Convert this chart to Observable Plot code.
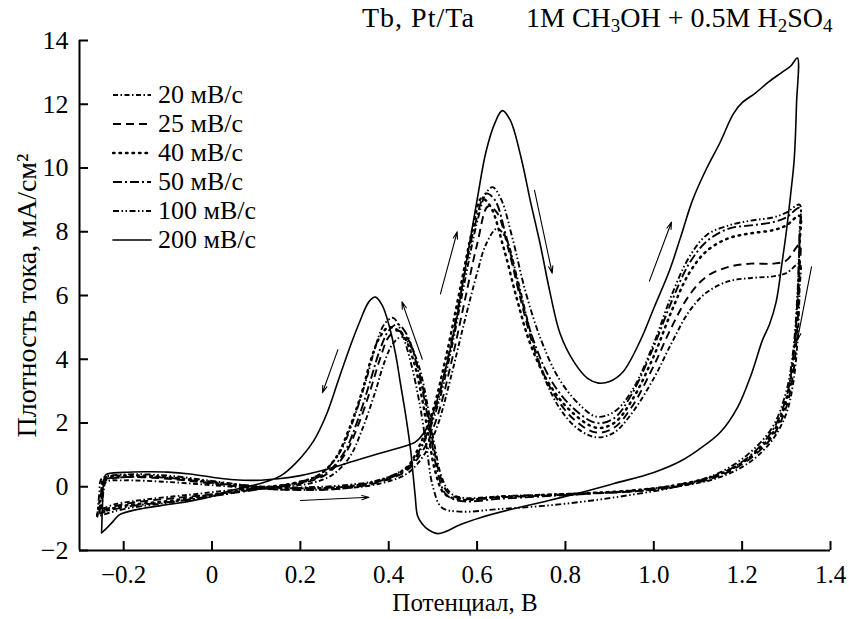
<!DOCTYPE html>
<html><head><meta charset="utf-8">
<script src="https://cdn.jsdelivr.net/npm/d3@7"></script>
<script src="https://cdn.jsdelivr.net/npm/@observablehq/plot@0.6"></script>
<style>
body{margin:0;background:#fff;}
#wrap{position:relative;width:849px;height:619px;font-family:"Liberation Serif","Times New Roman",serif;color:#000;}
.title{position:absolute;top:3px;font-size:28px;white-space:nowrap;line-height:30px;z-index:2;}
.title sub{font-size:19px;vertical-align:-5px;line-height:0;}
#legend{position:absolute;left:112px;top:80px;font-size:26px;z-index:2;}
.row{display:flex;align-items:center;height:29px;}
.row svg{margin-right:6px;}
</style></head><body><div id="wrap"><div id="t1" class="title" style="left:362px;letter-spacing:1px"></div><div id="t2" class="title" style="left:526px"></div><div id="legend"></div></div>
<script>
const xTicks = [-0.2, 0, 0.2, 0.4, 0.6, 0.8, 1.0, 1.2, 1.4];
const xTickLabels = ["−0.2", "0", "0.2", "0.4", "0.6", "0.8", "1.0", "1.2", "1.4"];
const yTicks = [-2, 0, 2, 4, 6, 8, 10, 12, 14];
const yTickLabels = ["−2", "0", "2", "4", "6", "8", "10", "12", "14"];
const xLabel = "Потенциал, В";
const yLabel = "Плотность тока, мА/см²";
const titleLeft = "Tb, Pt/Ta";
const titleRight = '1M CH<sub>3</sub>OH + 0.5M H<sub>2</sub>SO<sub>4</sub>';
const seriesNames = ["20 мВ/с", "25 мВ/с", "40 мВ/с", "50 мВ/с", "100 мВ/с", "200 мВ/с"];

const s20 = [[-0.25,-0.7],[-0.245,-0.1],[-0.24,0.15],[-0.2,0.2],[-0.1,0.15],[0,0.05],[0.1,-0.05],[0.2,-0.1],[0.3,-0.05],[0.38,0.1],[0.44,0.4],[0.48,1.0],[0.51,1.9],[0.54,3.4],[0.57,5.1],[0.6,6.7],[0.62,7.6],[0.645,8.1],[0.665,7.8],[0.69,6.6],[0.72,4.9],[0.75,3.5],[0.79,2.4],[0.83,1.8],[0.87,1.55],[0.91,1.7],[0.95,2.3],[1.0,3.4],[1.04,4.5],[1.08,5.5],[1.12,6.1],[1.17,6.45],[1.22,6.55],[1.27,6.6],[1.3,6.7],[1.33,7.0],
 [1.33,6.2],[1.325,4.5],[1.315,3.2],[1.3,2.3],[1.27,1.5],[1.22,0.8],[1.15,0.3],[1.05,0.0],[0.95,-0.15],[0.85,-0.2],[0.75,-0.25],[0.65,-0.3],[0.57,-0.35],[0.54,-0.2],[0.52,0.3],[0.505,1.2],[0.49,2.4],[0.47,3.7],[0.45,4.4],[0.43,4.7],[0.41,4.5],[0.39,3.9],[0.37,3.0],[0.34,1.8],[0.31,0.9],[0.27,0.35],[0.22,0.1],[0.15,0.0],[0.05,-0.1],[-0.05,-0.25],[-0.15,-0.4],[-0.22,-0.55],[-0.25,-0.7]];
const s25 = [[-0.255,-0.8],[-0.245,0.0],[-0.24,0.2],[-0.2,0.3],[-0.1,0.25],[0,0.1],[0.1,-0.05],[0.2,-0.1],[0.3,-0.05],[0.38,0.15],[0.44,0.5],[0.48,1.2],[0.51,2.2],[0.54,3.8],[0.57,5.7],[0.6,7.6],[0.625,8.8],[0.645,8.6],[0.67,7.5],[0.7,5.8],[0.73,4.3],[0.77,3.0],[0.82,2.1],[0.87,1.7],[0.91,1.85],[0.95,2.5],[1.0,3.8],[1.04,5.0],[1.08,6.0],[1.12,6.6],[1.17,6.9],[1.22,7.0],[1.27,7.0],[1.3,7.1],[1.33,7.6],
 [1.33,6.8],[1.325,5.0],[1.315,3.5],[1.3,2.5],[1.27,1.6],[1.22,0.9],[1.15,0.35],[1.05,0.0],[0.95,-0.15],[0.85,-0.22],[0.75,-0.28],[0.65,-0.33],[0.57,-0.38],[0.535,-0.2],[0.515,0.4],[0.5,1.4],[0.485,2.6],[0.465,3.8],[0.445,4.6],[0.42,4.9],[0.4,4.7],[0.38,4.0],[0.36,3.1],[0.33,1.9],[0.3,1.0],[0.26,0.4],[0.2,0.1],[0.12,-0.05],[0.03,-0.2],[-0.08,-0.35],[-0.18,-0.5],[-0.23,-0.65],[-0.255,-0.8]];
const s40 = [[-0.26,-0.9],[-0.25,-0.1],[-0.245,0.25],[-0.2,0.35],[-0.1,0.3],[0,0.15],[0.1,0.0],[0.2,-0.05],[0.3,0.0],[0.38,0.2],[0.44,0.6],[0.47,1.3],[0.5,2.4],[0.53,4.1],[0.56,6.1],[0.59,8.1],[0.61,9.05],[0.63,8.8],[0.66,7.5],[0.69,5.9],[0.72,4.5],[0.76,3.3],[0.81,2.4],[0.87,1.85],[0.91,2.0],[0.95,2.7],[1.0,4.1],[1.04,5.5],[1.08,6.7],[1.12,7.4],[1.17,7.8],[1.22,7.95],[1.27,8.05],[1.3,8.2],[1.33,8.5],
 [1.33,7.6],[1.325,5.6],[1.315,3.9],[1.3,2.7],[1.27,1.7],[1.22,0.95],[1.15,0.4],[1.05,0.05],[0.95,-0.12],[0.85,-0.2],[0.75,-0.26],[0.65,-0.32],[0.56,-0.4],[0.525,-0.2],[0.505,0.5],[0.49,1.6],[0.475,2.8],[0.455,4.0],[0.43,4.8],[0.4,5.0],[0.38,4.7],[0.36,4.0],[0.34,3.0],[0.31,1.8],[0.28,0.9],[0.24,0.35],[0.18,0.1],[0.1,-0.05],[0.0,-0.25],[-0.1,-0.45],[-0.2,-0.6],[-0.24,-0.75],[-0.26,-0.9]];
const s50 = [[-0.255,-0.85],[-0.25,-0.1],[-0.245,0.2],[-0.2,0.3],[-0.1,0.28],[0,0.12],[0.1,0.0],[0.2,-0.05],[0.3,0.0],[0.38,0.18],[0.44,0.55],[0.475,1.3],[0.505,2.4],[0.535,4.1],[0.565,6.2],[0.595,8.2],[0.62,9.2],[0.64,9.0],[0.665,7.9],[0.695,6.2],[0.725,4.7],[0.765,3.4],[0.815,2.5],[0.87,2.0],[0.91,2.15],[0.95,2.9],[1.0,4.4],[1.04,5.8],[1.08,7.0],[1.12,7.7],[1.17,8.1],[1.22,8.2],[1.27,8.3],[1.3,8.45],[1.33,8.75],
 [1.33,7.8],[1.325,5.8],[1.315,4.0],[1.3,2.8],[1.27,1.8],[1.22,1.0],[1.15,0.4],[1.05,0.05],[0.95,-0.12],[0.85,-0.22],[0.75,-0.3],[0.65,-0.38],[0.565,-0.45],[0.53,-0.25],[0.51,0.5],[0.495,1.6],[0.48,2.8],[0.46,4.0],[0.44,4.8],[0.42,5.1],[0.4,4.9],[0.38,4.3],[0.36,3.4],[0.33,2.1],[0.3,1.1],[0.26,0.45],[0.2,0.12],[0.12,-0.05],[0.02,-0.25],[-0.08,-0.45],[-0.18,-0.6],[-0.235,-0.75],[-0.255,-0.85]];
const s100 = [[-0.26,-0.95],[-0.255,-0.2],[-0.25,0.25],[-0.2,0.38],[-0.1,0.35],[0,0.18],[0.1,0.02],[0.2,-0.02],[0.3,0.05],[0.38,0.22],[0.45,0.7],[0.48,1.4],[0.51,2.5],[0.54,4.2],[0.57,6.3],[0.6,8.3],[0.62,9.2],[0.635,9.4],[0.655,9.0],[0.68,7.8],[0.71,6.1],[0.745,4.6],[0.785,3.4],[0.83,2.6],[0.87,2.2],[0.91,2.35],[0.95,3.0],[1.0,4.5],[1.04,6.0],[1.08,7.2],[1.12,7.9],[1.17,8.2],[1.22,8.35],[1.27,8.45],[1.3,8.6],[1.33,8.85],
 [1.33,8.0],[1.325,6.0],[1.315,4.2],[1.3,3.0],[1.27,1.9],[1.22,1.1],[1.15,0.45],[1.05,0.0],[0.95,-0.25],[0.85,-0.45],[0.75,-0.6],[0.65,-0.7],[0.56,-0.78],[0.52,-0.65],[0.5,0.0],[0.485,1.3],[0.47,2.6],[0.45,3.9],[0.43,4.8],[0.41,5.3],[0.39,5.1],[0.37,4.4],[0.35,3.4],[0.32,2.1],[0.29,1.1],[0.25,0.45],[0.19,0.12],[0.1,-0.05],[0.0,-0.3],[-0.1,-0.5],[-0.2,-0.7],[-0.24,-0.85],[-0.26,-0.95]];
const s200 = [[-0.25,-1.45],[-0.248,-0.6],[-0.245,0.2],[-0.24,0.38],[-0.2,0.45],[-0.15,0.47],[-0.1,0.46],[-0.05,0.4],[0,0.3],[0.05,0.22],[0.1,0.2],[0.15,0.25],[0.2,0.35],[0.26,0.55],[0.32,0.8],[0.38,1.05],[0.43,1.25],[0.46,1.4],[0.48,1.7],[0.5,2.3],[0.525,3.5],[0.55,5.0],[0.575,7.0],[0.6,9.0],[0.62,10.5],[0.64,11.4],[0.657,11.8],[0.675,11.5],[0.7,10.3],[0.72,9.0],[0.743,7.6],[0.765,6.1],[0.788,4.8],[0.82,3.9],[0.85,3.4],[0.875,3.25],[0.9,3.3],[0.93,3.6],[0.97,4.6],[1.0,5.6],[1.036,6.8],[1.06,7.8],[1.088,9.0],[1.12,10.0],[1.15,10.8],[1.18,11.7],[1.2,12.05],[1.23,12.35],[1.26,12.7],[1.29,13.0],[1.31,13.2],[1.325,13.45],
 [1.323,12.0],[1.318,10.3],[1.31,9.2],[1.3,8.0],[1.29,7.0],[1.277,5.8],[1.262,5.1],[1.246,4.6],[1.22,3.5],[1.19,2.5],[1.15,1.7],[1.1,1.15],[1.06,0.8],[1.0,0.45],[0.91,0.1],[0.83,-0.2],[0.76,-0.44],[0.68,-0.7],[0.607,-0.97],[0.56,-1.2],[0.53,-1.4],[0.51,-1.47],[0.49,-1.35],[0.475,-1.15],[0.465,-0.9],[0.46,-0.3],[0.455,0.4],[0.45,1.1],[0.44,2.1],[0.427,3.2],[0.415,4.2],[0.4,5.1],[0.385,5.7],[0.37,5.95],[0.355,5.8],[0.335,5.2],[0.31,4.3],[0.285,3.3],[0.26,2.3],[0.23,1.44],[0.19,0.75],[0.156,0.35],[0.12,0.15],[0.08,0.0],[0.04,-0.13],[-0.01,-0.34],[-0.05,-0.45],[-0.086,-0.53],[-0.12,-0.6],[-0.16,-0.69],[-0.19,-0.78],[-0.21,-0.88],[-0.223,-1.07],[-0.235,-1.25],[-0.25,-1.45]];

const arrows = [
  {x1: 0.2, y1: -0.43, x2: 0.355, y2: -0.33},
  {x1: 0.285, y1: 4.3, x2: 0.25, y2: 2.95},
  {x1: 0.476, y1: 4.0, x2: 0.43, y2: 5.8},
  {x1: 0.517, y1: 6.05, x2: 0.555, y2: 8.0},
  {x1: 0.73, y1: 9.3, x2: 0.77, y2: 6.7},
  {x1: 0.99, y1: 6.45, x2: 1.04, y2: 8.3},
  {x1: 1.357, y1: 6.9, x2: 1.325, y2: 4.6}
];

const styles = [
  {dash: "5,2.5,1.5,2.5", w: 1.9, cap: "butt"},
  {dash: "8,5", w: 1.9, cap: "butt"},
  {dash: "1.5,5", w: 2.5, cap: "round"},
  {dash: "9,3,2,3", w: 1.9, cap: "butt"},
  {dash: "6,2.5,1.5,2.5,1.5,2.5", w: 1.9, cap: "butt"},
  {dash: null, w: 1.6, cap: "round"}
];
const allSeries = [s20, s25, s40, s50, s100, s200];

const font = '"Liberation Serif", "Times New Roman", serif';
const chart = Plot.plot({
  width: 849, height: 619,
  marginTop: 40, marginBottom: 69, marginLeft: 79, marginRight: 19,
  style: {fontFamily: font, fontSize: "26px", background: "white", color: "black"},
  x: {domain: [-0.3, 1.4]},
  y: {domain: [-2, 14]},
  marks: [
    ...allSeries.map((s, i) => Plot.line(s, {x: d => d[0], y: d => d[1], stroke: "black", strokeWidth: styles[i].w, strokeDasharray: styles[i].dash, strokeLinecap: styles[i].cap, curve: "catmull-rom"})),
    Plot.arrow(arrows, {x1: "x1", y1: "y1", x2: "x2", y2: "y2", stroke: "black", strokeWidth: 1.1, headLength: 10, headAngle: 34}),
    Plot.ruleX([-0.3], {stroke: "black", strokeWidth: 2}),
    Plot.ruleY([-2], {stroke: "black", strokeWidth: 2}),
    Plot.axisX({ticks: xTicks, tickFormat: (d, i) => xTickLabels[i], tickSize: -9, tickPadding: 24, strokeWidth: 2, fontSize: 25, label: null}),
    Plot.axisY({ticks: yTicks, tickFormat: (d, i) => yTickLabels[i], tickSize: -9, tickPadding: 20, strokeWidth: 2, fontSize: 26, label: null}),
    Plot.text([xLabel], {frameAnchor: "bottom", dy: 52, dx: 10, fontSize: 25, textAnchor: "middle", lineAnchor: "middle", text: d => d}),
    Plot.text([yLabel], {frameAnchor: "left", rotate: -90, dx: -52, fontSize: 28, textAnchor: "middle", lineAnchor: "middle", text: d => d})
  ]
});
document.getElementById("wrap").appendChild(chart);
chart.style.position = "absolute"; chart.style.left = "0"; chart.style.top = "0";

document.getElementById("t1").textContent = titleLeft;
document.getElementById("t2").innerHTML = titleRight;
const leg = document.getElementById("legend");
seriesNames.forEach((n, i) => {
  const row = document.createElement("div");
  row.className = "row";
  const st = styles[i];
  row.innerHTML = `<svg width="40" height="10"><line x1="1" y1="5" x2="39" y2="5" stroke="black" stroke-width="${st.w}" ${st.dash ? `stroke-dasharray="${st.dash}"` : ""} stroke-linecap="${st.cap}"/></svg><span>${n}</span>`;
  leg.appendChild(row);
});
</script></body></html>
